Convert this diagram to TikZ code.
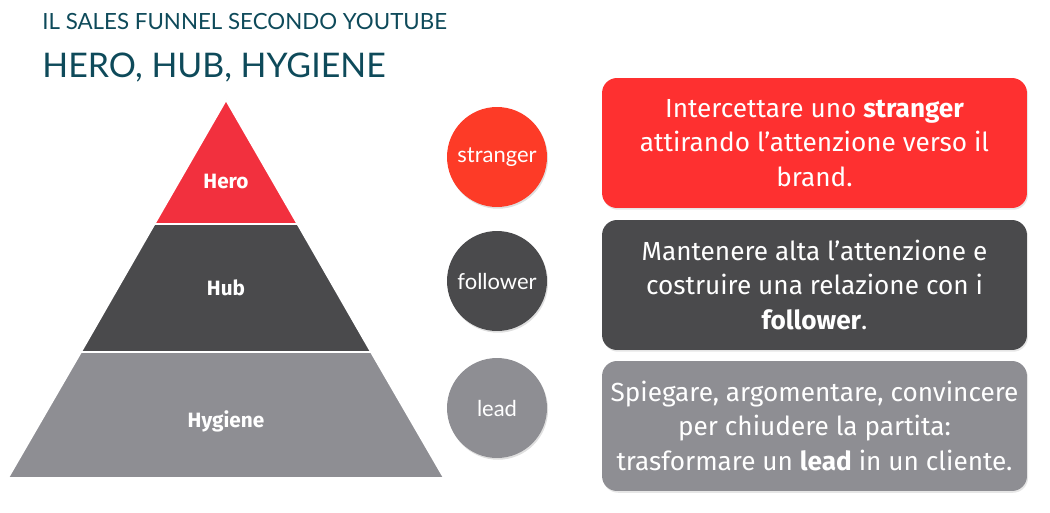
\documentclass[tikz,border=0pt]{standalone}
\usepackage{fontspec}
\setmainfont{Fira Sans}
\newfontfamily\titlefont{Lato}
\usetikzlibrary{shadows}
\definecolor{titleteal}{HTML}{0E4A5A}
\definecolor{herored}{HTML}{F2303E}
\definecolor{hubgray}{HTML}{4A4A4C}
\definecolor{hyggray}{HTML}{8E8E93}
\definecolor{dotred}{HTML}{FD3B27}
\definecolor{boxred}{HTML}{FE3030}
\tikzset{
	tierlabel/.style={text=white, font=\bfseries\fontsize{11.8}{14}\selectfont},
	dot/.style={circle, minimum size=2cm, inner sep=0pt, text=white,
		font=\titlefont\fontsize{12.5}{14}\selectfont,
		drop shadow={opacity=0.25, shadow xshift=0.6pt, shadow yshift=-1pt}},
	card/.style={rounded corners=0.3cm, minimum width=8.5cm, minimum height=2.6cm,
		text=white, align=center, font=\fontsize{14.9}{19.8}\selectfont,
		drop shadow={opacity=0.2, shadow xshift=0.6pt, shadow yshift=-1pt}}
}
\begin{document}
\begin{tikzpicture}[x=0.02cm, y=-0.02cm]
	\useasboundingbox (0,0) rectangle (1050,513);
	% titles
	\node[anchor=base west, inner sep=0pt, text=titleteal, font=\titlefont\fontsize{12.7}{15}\selectfont]
		(subtitle) at (42,30) {IL SALES FUNNEL SECONDO YOUTUBE};
	\node[anchor=base west, inner sep=0pt, text=titleteal, font=\titlefont\fontsize{19.3}{23}\selectfont]
		(title) at (42,78) {HERO, HUB, HYGIENE};
	% pyramid : apex (226,100), base y=478
	\filldraw[fill=herored, draw=white, line width=1pt] (226,100) -- (297.5,224) -- (154.5,224) -- cycle;
	\filldraw[fill=hubgray, draw=white, line width=1pt] (154.5,224) -- (297.5,224) -- (371,352) -- (81,352) -- cycle;
	\filldraw[fill=hyggray, draw=white, line width=1pt] (81,352) -- (371,352) -- (444,478) -- (8,478) -- cycle;
	\node[tierlabel] (hero) at (226,181) {Hero};
	\node[tierlabel] (hub) at (226,288) {Hub};
	\node[tierlabel] (hygiene) at (226,421) {Hygiene};
	% circles
	\node[dot, fill=dotred] (stranger) at (497,157) {stranger};
	\node[dot, fill=hubgray] (follower) at (497,281) {follower};
	\node[dot, fill=hyggray] (lead) at (497,408) {lead};
	% boxes
	\node[card, fill=boxred] (strangerbox) at (814.5,143)
		{Intercettare uno \textbf{stranger}\\attirando l’attenzione verso il\\brand.};
	\node[card, fill=hubgray] (followerbox) at (814.5,285)
		{Mantenere alta l’attenzione e\\costruire una relazione con i\\\textbf{follower}.};
	\node[card, fill=hyggray] (leadbox) at (814.5,426)
		{Spiegare, argomentare, convincere\\per chiudere la partita:\\trasformare un \textbf{lead} in un cliente.};
\end{tikzpicture}
\end{document}
